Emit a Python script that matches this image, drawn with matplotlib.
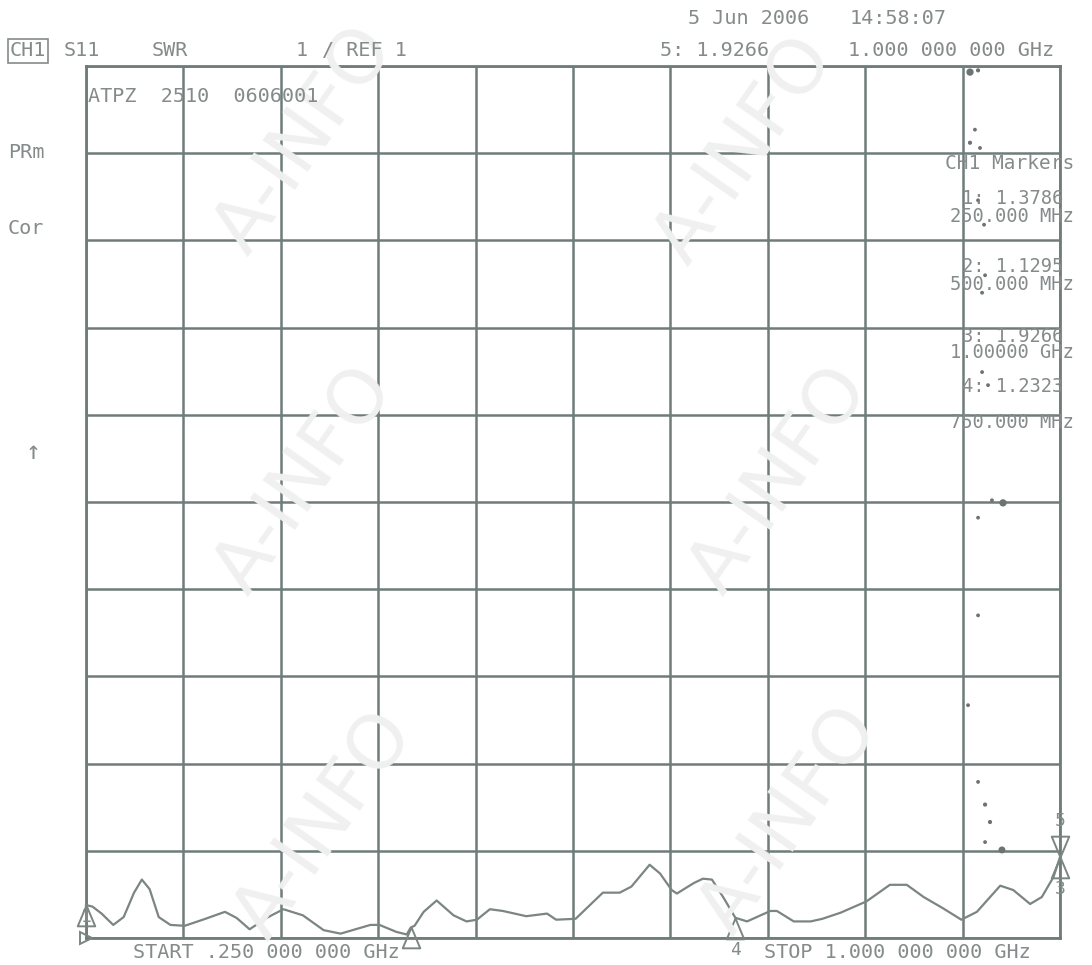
import numpy as np
import matplotlib
matplotlib.use("Agg")
import matplotlib.pyplot as plt
from matplotlib.path import Path

# S11 SWR trace (MHz, SWR)
freq_mhz = [250, 255, 262, 271, 279, 287, 293, 299, 306, 315, 326, 340, 357, 366,
            376, 389, 402, 417, 433, 446, 469, 476, 489, 497, 500, 503, 510, 520,
            533, 543, 551, 561, 571, 589, 605, 612, 627, 648, 661, 670, 684, 692,
            701, 705, 718, 725, 732, 741, 750, 759, 777, 782, 795, 808, 817, 831,
            851, 869, 882, 895, 910, 924, 936, 954, 964, 977, 986, 995, 1000]
swr = [1.378, 1.36, 1.28, 1.15, 1.24, 1.52, 1.67, 1.56, 1.24, 1.15, 1.14, 1.21,
       1.30, 1.23, 1.10, 1.23, 1.33, 1.26, 1.09, 1.05, 1.15, 1.15, 1.07, 1.04,
       1.12, 1.14, 1.30, 1.43, 1.26, 1.19, 1.21, 1.33, 1.31, 1.25, 1.28, 1.21,
       1.22, 1.52, 1.52, 1.59, 1.84, 1.74, 1.55, 1.51, 1.63, 1.68, 1.67, 1.46,
       1.232, 1.19, 1.31, 1.31, 1.19, 1.19, 1.22, 1.29, 1.42, 1.61, 1.61, 1.47,
       1.34, 1.21, 1.30, 1.60, 1.55, 1.39, 1.47, 1.70, 1.927]

# markers (number, MHz, SWR readout)
marker_num = ["1", "2", "3", "4", "5"]
marker_freq = [250, 500, 1000, 750, 1000]
marker_swr = [1.3786, 1.1295, 1.9266, 1.2323, 1.9266]
marker_text = ["250.000 MHz", "500.000 MHz", "1.00000 GHz", "750.000 MHz"]

# stray printer dots in the last column (MHz, SWR, size)
dot_freq = [930.7, 936.9, 934.5, 930.7, 938.4, 936.9, 941.5, 942.3, 940, 940, 944.6,
            947.6, 956.1, 936.9, 936.9, 929.2, 936.9, 942.3, 946.1, 942.3, 955.3]
dot_swr = [10.93, 10.95, 10.27, 10.12, 10.06, 9.46, 9.18, 8.60, 8.40, 7.49, 7.34,
           6.02, 5.99, 5.82, 4.70, 3.67, 2.79, 2.53, 2.33, 2.10, 2.01]
dot_size = [18, 4, 3, 4, 3, 3, 3, 3, 3, 3, 3, 3, 18, 3, 3, 3, 3, 4, 4, 3, 16]

W, H = 1092, 965
grid_c = "#6f7c7a"
text_c = "#858b8a"
trace_c = "#7b8582"
mono = "DejaVu Sans Mono"

fig = plt.figure(figsize=(W / 100, H / 100), dpi=100)
fig.patch.set_facecolor("white")


def px(x, y):
    return x / W, 1 - y / H


def put(x, y, s, **kw):
    kw.setdefault("fontsize", 14.5)
    kw.setdefault("color", text_c)
    kw.setdefault("family", mono)
    kw.setdefault("va", "center")
    fig.text(*px(x, y), s, **kw)


# faint watermark, behind everything
for cx, cy in [(305, 140), (745, 150), (305, 480), (780, 480), (325, 825), (790, 820)]:
    fig.text(*px(cx, cy), "A-INFO", fontsize=54, color="#f0f0f0", family="DejaVu Sans",
             rotation=55, ha="center", va="center", zorder=0)

ax = fig.add_axes([86 / W, 1 - 938 / H, 974 / W, 872 / H])
ax.patch.set_alpha(0)
ax.set_xlim(250, 1000)
ax.set_ylim(1, 11)
ax.set_xticks(np.arange(250, 1001, 75))
ax.set_yticks(np.arange(1, 12, 1))
ax.tick_params(length=0, labelbottom=False, labelleft=False)
ax.grid(True, color=grid_c, linewidth=1.8)
for sp in ax.spines.values():
    sp.set_color(grid_c)
    sp.set_linewidth(2)

ax.plot(freq_mhz, swr, color=trace_c, linewidth=1.6, clip_on=False, zorder=3)
ax.scatter(dot_freq, dot_swr, s=dot_size, color="#6b7472", zorder=3, clip_on=False)

# marker triangles, tip on the trace
tri_up = Path([(0, 0), (-0.42, -1), (0.42, -1), (0, 0)])
tri_dn = Path([(0, 0), (-0.42, 1), (0.42, 1), (0, 0)])
for n, f, v in zip(marker_num, marker_freq, marker_swr):
    if n == "5":
        ax.plot(f, v, marker=tri_dn, markersize=30, mfc="none", mec=trace_c, mew=1.4,
                clip_on=False, zorder=4)
        ax.annotate(n, (f, v), xytext=(0, 26), textcoords="offset points", ha="center",
                    va="center", fontsize=13, color=text_c, family=mono)
    else:
        ax.plot(f, v, marker=tri_up, markersize=30, mfc="none", mec=trace_c, mew=1.4,
                clip_on=False, zorder=4)
        if n == "2":
            continue
        off = -9 if n == "1" else -23
        ax.annotate(n, (f, v), xytext=(0, off), textcoords="offset points", ha="center",
                    va="center", fontsize=13, color=text_c, family=mono)
ax.plot(250, 1, marker=">", markersize=9, mfc="none", mec=trace_c, mew=1.4,
        clip_on=False, zorder=4)

# header
put(688, 18, "5 Jun 2006")
put(850, 18, "14:58:07")
put(10, 51, "CH1", bbox=dict(boxstyle="square,pad=0.1", fc="none", ec=text_c, lw=1.2))
put(64, 51, "S11")
put(152, 51, "SWR")
put(296, 51, "1")
put(322, 51, "/ REF 1")
put(660, 51, "5: 1.9266")
put(848, 51, "1.000 000 000 GHz")
put(88, 97, "ATPZ  2510  0606001")

# left annotations
put(8, 153, "PRm")
put(8, 228, "Cor")
put(26, 452, "\u2191", fontsize=18)

# marker table
put(945, 163, "CH1 Markers", fontsize=14)
rows_y = [(198, 216), (266, 284), (336, 352), (386, 422)]
for (y1, y2), n, v, t in zip(rows_y, marker_num, marker_swr, marker_text):
    put(962, y1, f"{n}: {v:.4f}", fontsize=13.5)
    put(950, y2, t, fontsize=13.5)

# footer
put(133, 953, "START .250 000 000 GHz")
put(764, 953, "STOP 1.000 000 000 GHz")

fig.savefig("out.png", dpi=100, facecolor="white")
